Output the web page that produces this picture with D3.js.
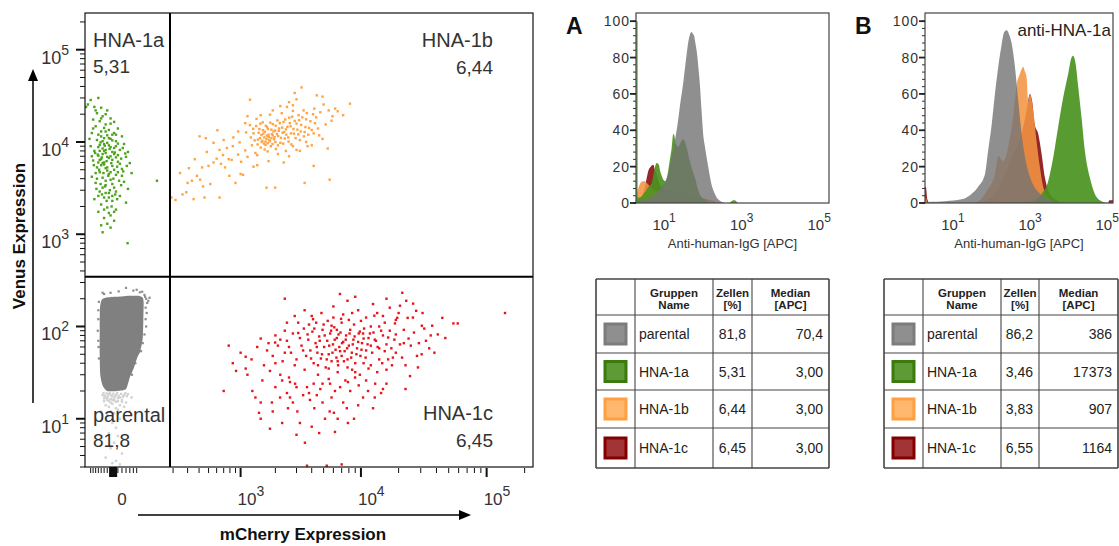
<!DOCTYPE html>
<html>
<head>
<meta charset="utf-8">
<script src="https://cdn.jsdelivr.net/npm/d3@7"></script>
<style>
  body { margin: 0; background: #fff; }
  text { font-family: "Liberation Sans", Arial, sans-serif; }
</style>
</head>
<body>
<svg id="fig" width="1119" height="546"></svg>
<script>
// ---------- data ----------
// dot plot: [mCherry, Venus]
const quadNames = ["HNA-1a", "HNA-1b", "parental", "HNA-1c"];
const quadPct   = ["5,31", "6,44", "81,8", "6,45"];
const gateX = 182, gateY = 346;

const greenPts = [[-100,28500],[-120,24000],[-70,30000],[-112,25500],[-85,24000],[-60,23500],[-40,22000],[-75,20500],
  [-55,19000],[-30,18000],[-90,17500],[-65,16800],[-20,16500],[-45,15500],[-80,14800],[-10,14000],[-35,13500],[-60,13000],
  [-95,12500],[-25,12000],[0,11500],[-50,11000],[-75,10500],[-15,10200],[-40,9800],[5,9500],[-65,9300],[-100,9000],
  [-30,8800],[-55,8500],[-5,8200],[-85,8000],[15,7800],[-45,7600],[-20,7400],[-70,7100],[10,6900],[-35,6700],[-60,6500],
  [-90,6300],[-10,6100],[20,5900],[-50,5700],[-25,5500],[-75,5300],[0,5100],[-40,4900],[-65,4700],[25,4600],[-15,4400],
  [-95,4200],[-55,4100],[-30,3900],[5,3700],[-80,3600],[-45,3400],[-20,3200],[15,3100],[-65,2900],[-35,2800],[-5,2600],
  [-50,2500],[-85,2400],[-25,2300],[10,2200],[-60,2100],[-40,1950],[-15,1850],[-70,1750],[-30,1600],[-50,1500],[-20,1400],
  [-40,1300],[-60,1250],[-30,1180],[-55,1050],[14,800],[116,3800],[-50,6000],[-30,7000],[-45,8200],[-20,5000],[-60,5600],
  [-35,4500],[-25,6400],[-55,7400],[-10,7200],[-40,5300],[-70,6000],[-15,9000],[-50,9500],[-30,10800],[-65,8000],[-5,5800],
  [-45,3800],[-25,3500],[-55,3200],[-35,2500],[-15,2900],[-75,4000],[0,4300],[-20,12500],[-60,11500],[-45,13000],
  [-62,9900],[-48,9100],[-33,8400],[-18,7700],[-72,7300],[-58,6800],[-42,6200],[-28,5900],[-12,5400],[-67,5000],[-52,4600],
  [-37,4300],[-22,4000],[-7,3800],[-62,3500],[-47,3300],[-32,3000],[-17,2700],[-2,3400],[-57,2700],[-42,2300],[-27,2000],
  [-12,2400],[-77,3100],[-87,5600],[-82,7600],[-70,8800],[-55,10200],[-40,11800],[-25,10400],[-10,9600],[2,8600],[8,7500],
  [-2,6600],[12,5500],[3,4800],[-35,9200],[-50,8000],[-20,8600],[-65,6400],[-45,5200],[-30,4700],[-15,6800],[-80,4600],
  [-95,7000],[-105,10800],[-90,14000],[-70,12000],[-50,14200],[-30,15800],[-60,18000],[-80,22000],[-45,20000],[-35,11000],
  [-15,12000],[-25,7800],[-40,6900],[-55,5900],[-10,4700],[-45,2800],[-70,2600],[-25,2600],[-35,1700],[-50,1850],[-20,1750]];

const orangePts = [[190,2500],[215,2350],[245,4600],[262,2700],[290,2850],[310,5200],[335,3800],[350,2400],[380,4300],
  [405,11500],[410,3900],[440,3300],[455,2500],[470,11000],[500,5500],[520,3500],[560,9800],[600,6600],[610,13400],
  [640,2500],[660,5800],[690,7200],[720,5300],[750,8600],[790,4300],[830,6400],[860,11200],[900,3600],[950,7300],
  [980,9900],[1010,6100],[1050,4400],[1100,8100],[1120,12700],[1210,15200],[1260,9200],[1300,12400],[1350,7600],
  [1380,17800],[1420,10600],[1460,13800],[1500,8700],[1520,11900],[1560,16300],[1600,9600],[1630,12900],[1650,10100],
  [1700,14500],[1720,7900],[1760,11300],[1800,19800],[1830,9000],[1870,12200],[1900,15600],[1950,10700],[1990,13300],
  [2020,8400],[2080,17100],[2110,11600],[2150,14000],[2200,9800],[2260,20500],[2300,12600],[2340,16500],[2400,10900],
  [2450,13700],[2500,24000],[2560,11200],[2610,18300],[2680,14800],[2720,9400],[2800,21700],[2860,12300],[2900,16900],
  [3050,13600],[3120,19500],[3200,10500],[3280,15300],[3430,22000],[3500,12800],[3600,17600],[3800,14200],[4100,20000],
  [4250,16000],[1210,28700],[3300,39000],[2900,34000],[2800,25000],[4400,32000],[4900,31000],[6200,23000],[8160,26000],
  [5800,17000],[4900,10800],[5400,8500],[5600,3900],[4150,5500],[3500,3600],[1680,3200],[1990,3200],[4150,12400],
  [1550,10300],[1680,10800],[1720,9700],[1610,11200],[1800,10200],[1480,11000],[1900,11800],[1750,12000],[1650,9300],
  [2000,10000],[1580,12300],[1850,13600],[2600,7000],[3000,8200],[2350,6000],[1400,5600],[1150,19000],[3700,9000],
  [1230,11200],[1290,13900],[1330,10400],[1370,14900],[1410,9400],[1440,12600],[1490,15800],[1530,10000],[1570,13400],
  [1620,8300],[1660,15000],[1690,11700],[1730,13800],[1770,10500],[1810,16200],[1850,11000],[1890,9500],[1930,13000],
  [1970,11300],[2010,15000],[2060,12200],[2100,9200],[2140,13200],[2180,16000],[2230,11100],[2280,14300],[2320,9600],
  [2370,12800],[2420,17500],[2470,12000],[2520,14600],[2580,10100],[2640,16000],[2700,12400],[2760,18800],[2830,13800],
  [2950,11000],[3000,15800],[3100,12100],[3150,17200],[3250,13000],[3350,18500],[3450,11500],[3550,14500],[3650,20500],
  [3750,12000],[3900,16800],[4000,13500],[4200,23000],[4350,18500],[4500,14000],[4700,21000],[5000,25500],[5200,15500],
  [5500,22000],[5900,19000],[6500,21500],[7200,19500],[3000,29000],[2600,27000],[2200,24500],[1900,22000],[1500,19500],
  [1100,16000],[950,13000],[850,9000],[700,10500],[780,6500],[640,8200],[560,6000],[480,7800],[430,5300],[360,6500],
  [300,3600],[1000,4500],[1300,5400],[1150,6900],[1400,7200],[1750,6200],[2100,7400],[2450,8000],[2800,9000],[3200,8000],
  [3600,10000],[4000,9200],[4600,11800]];

const redPts = [[700,20],[910,33],[1110,47],[1110,35],[1270,20],[1350,17],[1450,11.6],[1500,10],[1500,74],[1800,7.8],
  [1990,67],[2280,9],[3000,6.7],[3520,5.5],[3100,110],[4350,110],[4000,8.2],[6180,7.2],[5130,10],[7860,9],[6780,225],
  [6920,121],[6400,92],[10400,84],[12800,131],[13500,140],[19500,124],[18700,108],[21400,232],[20500,168],[26100,177],
  [27600,148],[23600,124],[30600,102],[37000,102],[44500,124],[54500,108],[59000,108],[47000,75],[38500,52],[30500,50],
  [28500,36],[24650,29],[22700,38],[21300,46],[22700,21],[17700,38],[14800,40],[16000,24],[14500,19],[12900,17],[11400,20],
  [10400,17],[8970,28],[7860,25],[6180,20],[5640,24],[4900,24],[4150,24],[3660,22],[2920,24],[2650,25],[2280,26],[2650,17],
  [2800,15],[3400,18],[3870,16],[4900,15],[4400,18],[7700,13],[6060,11.6],[6500,10],[1870,15],[2190,17],[1550,26],[2550,13],
  [3050,12],[3100,85],[3300,62],[3450,95],[3600,48],[3750,72],[3900,55],[4050,88],[4150,40],[4300,66],[4450,52],[4600,78],
  [4750,45],[4900,92],[5050,60],[5200,36],[5350,70],[5500,50],[5650,84],[5800,42],[5950,64],[6100,98],[6250,56],[6400,75],
  [6550,38],[6700,60],[6850,86],[7000,48],[7200,68],[7400,54],[7600,80],[7800,44],[8000,62],[8200,92],[8450,52],[8700,72],
  [9000,40],[9300,58],[9600,84],[9900,48],[10200,66],[10600,95],[11000,55],[11500,75],[12000,62],[12600,86],[13200,70],
  [14000,58],[15000,80],[16000,64],[17000,90],[18500,72],[1700,55],[1900,48],[2100,62],[2300,42],[2500,70],[2700,52],
  [2900,38],[2000,80],[2400,90],[1600,38],[1800,33],[2200,30],[2600,28],[1400,60],[1250,44],[1150,30],[1000,52],[850,40],
  [780,62],[2500,110],[2900,130],[3500,150],[4100,120],[4800,140],[5400,115],[6000,165],[7200,135],[8000,118],[9500,150],
  [11000,125],[12500,175],[15500,110],[20000,140],[23000,190],[3800,105],[5800,102],[8800,105],[14000,100],[4500,30],
  [5500,27],[6500,32],[7500,26],[8500,34],[9800,30],[11500,35],[13500,32],[16500,44],[19000,52],[25000,62],[33000,70],
  [41000,82],[35000,58],[28000,48],[22000,66],[139800,140],[3660,3.1],[5300,3.1],[7000,3.2],
  [3200,75],[3400,55],[3700,82],[3950,45],[4200,95],[4400,60],[4650,70],[4850,50],[5100,80],[5300,44],[5550,62],[5750,90],
  [5900,52],[6150,72],[6350,46],[6600,82],[6800,54],[7050,66],[7300,42],[7550,72],[7750,58],[8100,84],[8350,46],[8600,64],
  [8900,78],[9200,50],[9500,68],[9800,88],[10100,56],[10500,74],[10900,46],[11300,64],[11800,84],[12300,52],[12900,72],
  [13600,60],[14500,90],[15500,54],[16500,76],[17500,58],[19000,82],[20500,64],[22000,92],[24000,74],[26500,86],[29000,66],
  [32000,95],[36000,80],[2600,60],[2800,84],[3000,44],[2400,52],[2200,72],[2000,40],[1750,66],[3500,34],[4500,38],[5500,35],
  [6500,42],[7800,36],[9000,32],[10500,40],[12000,38],[14000,44],[16000,34],[18000,46],[4000,130],[5000,105],[6000,125],
  [7000,110],[8500,140],[10000,115],[12000,100],[15000,130],[17000,160],[19000,118],[26000,125],[31000,140],[3000,22],
  [3800,19],[4700,21],[5800,17],[6800,22],[8200,20],[9600,23],[11000,26],[13000,24],[15000,21],[2000,22],[2500,19],
  [1500,15],[1900,12],[4200,13],[5600,12],[7200,15],[9500,14],[12500,13],[3200,9],[4600,7],[8800,10],[2400,200],[7800,190],
  [9000,210],[16000,200]];

const parentalOutline = [[-58,195],[-45,205],[-20,210],[0,212],[20,215],[45,215],[60,205],[63,180],[62,120],[60,75],
  [52,55],[42,46],[32,36],[20,28],[10,21],[-10,20],[-40,20],[-55,23],[-63,30],[-65,50],[-65,100],[-64,160]];
const parentalFringe = [[-50,225],[-30,232],[-8,240],[10,262],[30,245],[50,235],[66,220],[72,200],[76,180],[70,160],
  [74,140],[70,120],[72,100],[66,82],[60,66],[54,54],[-68,185],[-70,150],[-70,120],[-72,90],[-70,70],[-68,45],[-69,60],
  [-55,232],[40,250],[58,238],[80,190],[68,210],[85,205],[45,52],[36,40],[26,30]];
const parentalLow = [[-55,18],[-45,17],[-35,18.5],[-25,17.5],[-15,18],[-5,17],[5,18],[15,18.5],[-50,15.5],[-40,16],
  [-30,15],[-20,16.5],[-10,15.5],[0,16],[10,15],[-45,14],[-35,13.5],[-25,14.5],[-15,13],[-5,14],[5,13.5],[-30,12],
  [-20,11.5],[-10,12.5],[-40,11],[-5,10],[-25,9],[-15,8],[-35,7],[-10,6.5],[-20,5.5],[-30,4.8],[0,4.2],[-45,3.8],
  [-15,3.5],[-25,3.3],[-5,3.2],[-60,12],[20,12],[25,17],[-52,19],[-42,18.8],[-32,19],[-22,18.7],[-12,19],[-2,18.6],
  [8,18.9],[-48,17.8],[-38,17.6],[-28,17.9],[-18,17.4],[-8,17.7],[2,17.3],[12,17.6],[-50,16.6],[-40,16.8],[-30,16.4],
  [-20,15.8],[-10,16.7],[0,15.2],[-35,15.6],[-15,15.3],[-25,16]];

const xMajor = [0, 1e3, 1e4, 1e5];
const yMajor = [1e1, 1e2, 1e3, 1e4, 1e5];

// histograms: [APC, % of max]
const histA = {
  red:    [[2,0],[2.3,2],[3,5],[3.4,9],[3.8,14],[4.2,18],[4.8,20],[5.6,21],[6.2,18],[6.8,16],[7.8,12],[8.3,10],[9.2,9],
           [11.2,8],[14,7],[18,7],[25,6],[35,5],[50,4],[70,3],[100,2],[150,1],[220,0]],
  orange: [[2,0],[2.1,5],[2.3,8],[2.6,11],[3,12],[3.4,12],[3.8,11],[4.2,10],[5,8],[6,7],[8,6],[12,6],[18,6],[25,5.5],
           [35,5],[50,4.5],[80,3.5],[120,2.5],[180,1.5],[250,0.5],[320,0]],
  green:  [[2.02,100],[2.2,100],[2.25,3],[2.5,3],[3.4,6],[4.2,9],[5.1,11],[5.8,17],[6.8,22],[7.8,21],[8.3,18],[9.2,15],
           [10,13],[11.2,12],[12.5,14],[13.6,18],[15,24],[16.6,30],[18.3,38],[19.5,37],[21,33],[24.6,31],[28,33],[33,35],
           [36,34],[40,31],[49,23],[57,18],[66,14],[81,7],[100,3],[120,2],[150,0.5],[200,0],[500,0],[585,1],[650,1.5],
           [710,1.5],[800,0.5],[870,0]],
  gray:   [[2,0],[2.3,1],[3.5,2],[6.2,5],[9.2,9],[13.6,16],[16.6,25],[20,34],[24.6,46],[27,53],[33,66],[37,75],[40,81],
           [45,89],[49,92.5],[54,94],[59,93],[63,92],[68,88],[73,84],[81,75],[89,65],[98,51],[108,38],[120,31],[146,20],
           [178,10],[217,5],[263,2],[390,0]]
};
const histB = {
  red:    [[2,9],[2.1,9],[2.3,2],[2.6,0],[50,0],[72,1],[159,8],[352,25],[640,38],[863,51],[1050,60],[1200,56],[1410,43],
           [1730,38],[2110,27],[2570,14],[3130,7],[4660,2],[8470,0],[112000,0],[120000,1.5],[150000,1.5]],
  orange: [[2,0],[2.1,3],[2.3,0.5],[2.6,0],[30,0],[48,1],[87,8],[130,16],[159,26],[214,23],[288,31],[389,48],[475,65],
           [578,71],[708,75],[760,73],[863,69],[950,56],[1050,60],[1280,51],[1560,34],[1900,20],[2320,9],[3130,3],[5690,0]],
  green:  [[200,0],[1160,1],[2110,5],[3130,12],[4220,25],[5690,42],[7660,58],[10300,71],[12600,80],[13900,81],[16000,77],
           [18800,64],[22900,47],[27900,29],[37600,14],[50700,5],[75500,1],[112000,0]],
  gray:   [[2,0],[2.4,0.5],[6.6,1],[17.8,2],[32,5],[48,9],[72,16],[87,29],[107,43],[130,60],[159,75],[194,87],[227,94],
           [262,95],[300,93],[352,88],[430,75],[525,56],[640,38],[863,21],[1160,12],[1730,6],[3130,2],[5690,0]]
};
const histYTicks = [0, 20, 40, 60, 80, 100];
const histXLabels = [1, 3, 5];

// tables
const groups  = ["parental", "HNA-1a", "HNA-1b", "HNA-1c"];
const cellsA  = ["81,8", "5,31", "6,44", "6,45"];
const medianA = ["70,4", "3,00", "3,00", "3,00"];
const cellsB  = ["86,2", "3,46", "3,83", "6,55"];
const medianB = ["386", "17373", "907", "1164"];

// ---------- drawing ----------
const svg = d3.select("#fig");
const ink = "#333";

const sx = d3.scaleSymlog().constant(130).domain([-125, 233000]).range([85, 533]);
const sy = d3.scaleLog().domain([3, 250000]).range([467, 13]);

const defs = svg.append("defs");
defs.append("clipPath").attr("id", "clipS").append("rect")
    .attr("x", 85).attr("y", 13).attr("width", 448).attr("height", 454);

const plot = svg.append("g").attr("clip-path", "url(#clipS)");

function dots(pts, color, s) {
  plot.append("g").attr("fill", color)
    .selectAll("rect").data(pts).join("rect")
      .attr("x", d => sx(d[0]) - s / 2)
      .attr("y", d => sy(d[1]) - s / 2)
      .attr("width", s).attr("height", s);
}

dots(parentalLow, "#d2d2d2", 2.4);
dots(parentalFringe, "#8c8c8c", 2.2);
plot.append("path")
    .datum(parentalOutline)
    .attr("d", d3.line().x(d => sx(d[0])).y(d => sy(d[1])).curve(d3.curveCardinalClosed.tension(0.4)))
    .attr("fill", "#808080");
dots(greenPts, "#4da31c", 2.4);
dots(orangePts, "#ffa445", 2.4);
dots(redPts, "#e8141c", 2.4);

// gates
svg.append("line").attr("x1", sx(gateX)).attr("x2", sx(gateX)).attr("y1", 13).attr("y2", 467)
    .attr("stroke", "#000").attr("stroke-width", 2);
svg.append("line").attr("x1", 85).attr("x2", 533).attr("y1", sy(gateY)).attr("y2", sy(gateY))
    .attr("stroke", "#000").attr("stroke-width", 2);

svg.append("rect").attr("x", 85).attr("y", 13).attr("width", 448).attr("height", 454)
    .attr("fill", "none").attr("stroke", "#111").attr("stroke-width", 1.2);

// y axis ticks
const yt = svg.append("g");
sy.ticks().forEach(v => {
  const major = yMajor.includes(v);
  yt.append("line").attr("x1", major ? 76 : 80).attr("x2", 85)
    .attr("y1", sy(v)).attr("y2", sy(v))
    .attr("stroke", "#111").attr("stroke-width", major ? 2 : 1);
});
yMajor.forEach(v => {
  const t = yt.append("text").attr("x", 69).attr("y", sy(v) + 14)
    .attr("text-anchor", "end").attr("fill", ink);
  t.append("tspan").attr("font-size", 18).text("10");
  t.append("tspan").attr("font-size", 14).attr("dy", -9).text(Math.round(Math.log10(v)));
});

// x axis ticks
const xt = svg.append("g");
const xMinor = d3.range(-100, 41, 10)
  .concat(d3.range(2, 10).map(k => k * 100), d3.range(2, 10).map(k => k * 1000),
          d3.range(2, 10).map(k => k * 10000), [200000]);
xMinor.forEach(v => {
  xt.append("line").attr("x1", sx(v)).attr("x2", sx(v)).attr("y1", 468).attr("y2", 473)
    .attr("stroke", "#111").attr("stroke-width", 1);
});
d3.range(-32, -13, 2).forEach(v => {
  xt.append("line").attr("x1", sx(v)).attr("x2", sx(v)).attr("y1", 467).attr("y2", 477)
    .attr("stroke", "#111").attr("stroke-width", 1.6);
});
xMajor.slice(1).forEach(v => {
  xt.append("line").attr("x1", sx(v)).attr("x2", sx(v)).attr("y1", 468).attr("y2", 477)
    .attr("stroke", "#111").attr("stroke-width", 2);
  const t = xt.append("text").attr("x", sx(v) - 3).attr("y", 505).attr("fill", ink);
  t.append("tspan").attr("font-size", 17).text("10");
  t.append("tspan").attr("font-size", 14).attr("dy", -9).text(Math.round(Math.log10(v)));
});
xt.append("text").attr("x", sx(0)).attr("y", 505).attr("text-anchor", "middle")
  .attr("font-size", 17).attr("fill", ink).text("0");

// quadrant labels
const ql = svg.append("g").attr("fill", ink).attr("font-size", 20);
ql.append("text").attr("x", 93).attr("y", 47).text(quadNames[0]);
ql.append("text").attr("x", 93).attr("y", 73).attr("font-size", 19).text(quadPct[0]);
ql.append("text").attr("x", 493).attr("y", 47).attr("text-anchor", "end").text(quadNames[1]);
ql.append("text").attr("x", 493).attr("y", 74).attr("font-size", 19).attr("text-anchor", "end").text(quadPct[1]);
ql.append("text").attr("x", 93).attr("y", 422).text(quadNames[2]);
ql.append("text").attr("x", 93).attr("y", 447).attr("font-size", 19).text(quadPct[2]);
ql.append("text").attr("x", 493).attr("y", 420).attr("text-anchor", "end").text(quadNames[3]);
ql.append("text").attr("x", 493).attr("y", 447).attr("font-size", 19).attr("text-anchor", "end").text(quadPct[3]);

// axis titles + arrows
svg.append("line").attr("x1", 33).attr("x2", 33).attr("y1", 403).attr("y2", 80).attr("stroke", "#000").attr("stroke-width", 1.5);
svg.append("path").attr("d", "M33,69 L28,81 L38,81 Z").attr("fill", "#000");
svg.append("line").attr("x1", 138).attr("x2", 460).attr("y1", 515).attr("y2", 515).attr("stroke", "#000").attr("stroke-width", 1.5);
svg.append("path").attr("d", "M471,515 L459,510 L459,520 Z").attr("fill", "#000");
svg.append("text").attr("transform", "translate(25,236) rotate(-90)").attr("text-anchor", "middle")
  .attr("font-size", 17).attr("font-weight", "bold").attr("fill", "#111").text("Venus Expression");
svg.append("text").attr("x", 303).attr("y", 540).attr("text-anchor", "middle")
  .attr("font-size", 17).attr("font-weight", "bold").attr("fill", "#111").text("mCherry Expression");

// ---------- histograms ----------
const histColors = { red: "#8e1b1b", orange: "#f29543", green: "#4a9420", gray: "#737373" };
const histAlpha  = { red: 0.95, orange: 0.88, green: 0.92, gray: 0.8 };

function histPanel(id, data, x0, x1, xDomain, letter, note) {
  const hx = d3.scaleLog().domain(xDomain).range([x0, x1]);
  const hy = d3.scaleLinear().domain([0, 104.5]).range([203, 13]);
  const g = svg.append("g");
  defs.append("clipPath").attr("id", id).append("rect")
      .attr("x", x0).attr("y", 13).attr("width", x1 - x0).attr("height", 190);
  const area = d3.area().x(d => hx(d[0])).y0(hy(0)).y1(d => hy(d[1])).curve(d3.curveMonotoneX);
  const layers = g.append("g").attr("clip-path", `url(#${id})`);
  ["red", "orange", "green", "gray"].forEach(k => {
    layers.append("path").datum(data[k]).attr("d", area)
      .attr("fill", histColors[k]).attr("fill-opacity", histAlpha[k]);
  });
  g.append("rect").attr("x", x0).attr("y", 13).attr("width", x1 - x0).attr("height", 190)
    .attr("fill", "none").attr("stroke", "#444").attr("stroke-width", 1.2);
  d3.range(0, 101, 4).forEach(v => {
    g.append("line").attr("x1", x0 - 3).attr("x2", x0).attr("y1", hy(v)).attr("y2", hy(v))
      .attr("stroke", "#333").attr("stroke-width", 1);
  });
  histYTicks.forEach(v => {
    g.append("line").attr("x1", x0 - 6).attr("x2", x0).attr("y1", hy(v)).attr("y2", hy(v))
      .attr("stroke", "#222").attr("stroke-width", 1.8);
    g.append("text").attr("x", x0 - 6).attr("y", hy(v) + 5).attr("text-anchor", "end")
      .attr("font-size", 14).attr("letter-spacing", 1).attr("fill", ink).text(v);
  });
  histXLabels.forEach(e => {
    const t = g.append("text").attr("x", hx(Math.pow(10, e)) + 1).attr("y", 230)
      .attr("text-anchor", "middle").attr("fill", ink);
    t.append("tspan").attr("font-size", 15).text("10");
    t.append("tspan").attr("font-size", 12).attr("dy", -8).text(e);
  });
  g.append("text").attr("x", (x0 + x1) / 2).attr("y", 248).attr("text-anchor", "middle")
    .attr("font-size", 13).attr("fill", ink).text("Anti-human-IgG [APC]");
  g.append("text").attr("x", x0 - 70).attr("y", 34).attr("font-size", 23).attr("font-weight", "bold")
    .attr("fill", "#111").text(letter);
  if (note) g.append("text").attr("x", x1 - 2).attr("y", 36).attr("text-anchor", "end")
    .attr("font-size", 17).attr("fill", "#222").text(note);
}
histPanel("clipA", histA, 636, 829, [2, 1.9e5], "A", null);
histPanel("clipB", histB, 925, 1113, [2, 1.5e5], "B", "anti-HNA-1a");

// ---------- tables ----------
const swatch = [
  { fill: "#8f8f8f", stroke: "#7c7c7c" },
  { fill: "#5e9a36", stroke: "#3b7a0c" },
  { fill: "#ffb86e", stroke: "#ffa040" },
  { fill: "#a13535", stroke: "#840000" }
];
const rowY = [279, 315, 353, 390, 428, 468];

function table(cols, cells, medians) {
  const g = svg.append("g");
  const line = "#444";
  cols.forEach((c, i) => g.append("line").attr("x1", c).attr("x2", c).attr("y1", rowY[0]).attr("y2", rowY[5])
    .attr("stroke", line).attr("stroke-width", (i === 0 || i === cols.length - 1) ? 1.6 : 1.1));
  rowY.forEach((r, i) => g.append("line").attr("x1", cols[0]).attr("x2", cols[4]).attr("y1", r).attr("y2", r)
    .attr("stroke", line).attr("stroke-width", (i === 0 || i === rowY.length - 1) ? 1.6 : 1.1));
  const heads = [["Gruppen", "Name"], ["Zellen", "[%]"], ["Median", "[APC]"]];
  heads.forEach((h, j) => {
    const cx = (cols[j + 1] + cols[j + 2]) / 2;
    h.forEach((s, k) => g.append("text").attr("x", cx).attr("y", 297 + k * 12).attr("text-anchor", "middle")
      .attr("font-size", 11.5).attr("font-weight", "bold").attr("fill", "#222").text(s));
  });
  groups.forEach((name, i) => {
    const cy = (rowY[i + 1] + rowY[i + 2]) / 2;
    const cx = (cols[0] + cols[1]) / 2;
    g.append("rect").attr("x", cx - 10.5).attr("y", cy - 10).attr("width", 21).attr("height", 20)
      .attr("fill", swatch[i].fill).attr("stroke", swatch[i].stroke).attr("stroke-width", 3);
    g.append("text").attr("x", cols[1] + 4).attr("y", cy + 5).attr("font-size", 14).attr("fill", "#222").text(name);
    g.append("text").attr("x", cols[3] - 6).attr("y", cy + 5).attr("text-anchor", "end")
      .attr("font-size", 14).attr("fill", "#222").text(cells[i]);
    g.append("text").attr("x", cols[4] - 6).attr("y", cy + 5).attr("text-anchor", "end")
      .attr("font-size", 14).attr("fill", "#222").text(medians[i]);
  });
}
table([596, 635, 713, 752, 829], cellsA, medianA);
table([884, 923, 1001, 1039, 1118], cellsB, medianB);
</script>
</body>
</html>
